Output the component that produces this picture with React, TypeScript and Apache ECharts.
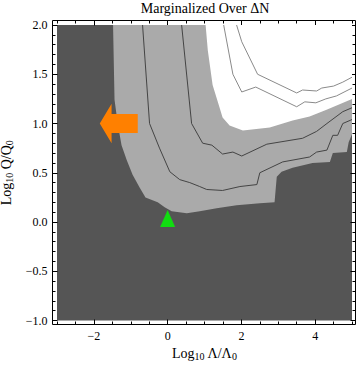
import React, { useEffect, useRef } from 'react';
import * as echarts from 'echarts';

// ---- data (Log10 Λ/Λ0 , Log10 Q/Q0) ----
const X_MAJOR = [-2, 0, 2, 4];
const Y_MAJOR_STEP = 0.5;

const lightRegion: number[][] = [
  [-1.48, 2.0], [-1.44, 1.24], [-1.35, 0.99], [-1.25, 0.78], [-1.11, 0.63], [-0.95, 0.48],
  [-0.76, 0.35], [-0.6, 0.25], [-0.27, 0.2], [-0.08, 0.15], [0.11, 0.11], [0.52, 0.09],
  [0.87, 0.11], [1.33, 0.14], [1.87, 0.17], [2.5, 0.19], [2.9, 0.2], [2.96, 0.46],
  [3.09, 0.51], [3.39, 0.55], [3.93, 0.6], [4.4, 0.61], [4.48, 0.7], [4.86, 0.71],
  [4.91, 0.81], [5.0, 0.89], [5.0, 2.0],
];

const whiteRegion: number[][] = [
  [1.03, 2.0], [1.09, 1.74], [1.22, 1.39], [1.41, 1.16], [1.49, 1.06], [1.68, 0.98],
  [2.04, 0.93], [2.77, 0.96], [3.39, 1.03], [3.85, 1.07], [4.31, 1.14], [5.0, 1.25], [5.0, 2.0],
];

const contourA: number[][] = [
  [-0.68, 2.0], [-0.49, 1.0], [-0.22, 0.75], [0.06, 0.51], [0.33, 0.43], [0.6, 0.4],
  [0.87, 0.36], [1.06, 0.33], [1.49, 0.32], [1.96, 0.36], [2.42, 0.38], [2.5, 0.5],
  [3.12, 0.61], [3.85, 0.66], [4.04, 0.71], [4.32, 0.73], [4.48, 0.88], [4.61, 0.88],
  [4.75, 1.0], [5.0, 1.04],
];

const contourB: number[][] = [
  [0.38, 2.0], [0.65, 1.0], [0.95, 0.8], [1.2, 0.78], [1.49, 0.69], [1.77, 0.71],
  [2.01, 0.67], [2.69, 0.79], [3.66, 0.85], [4.04, 0.92], [4.32, 1.0], [4.75, 1.12], [5.0, 1.16],
];

const contourC: number[][] = [
  [1.52, 2.0], [1.77, 1.5], [2.01, 1.32], [2.39, 1.37], [3.5, 1.17], [3.72, 1.22],
  [4.02, 1.21], [4.29, 1.25], [4.58, 1.28], [5.0, 1.36],
];

const contourD: number[][] = [
  [1.87, 2.0], [2.01, 1.83], [2.44, 1.5], [3.5, 1.31], [3.66, 1.34], [4.04, 1.33],
  [4.18, 1.36], [4.5, 1.38], [4.75, 1.42], [5.0, 1.47],
];

const arrowShape: number[][] = [
  [-1.84, 1.0], [-1.52, 1.2], [-1.52, 1.096], [-0.81, 1.096], [-0.81, 0.904], [-1.52, 0.904], [-1.52, 0.8],
];

const markerPoint: number[][] = [[0, 0]];

const FONT = "'Liberation Serif', 'Times New Roman', serif";

function minusFmt(s: string) {
  return s.replace('-', '\u2212');
}

function polygonSeries(poly: number[][], color: string, z: number) {
  return {
    type: 'custom',
    xAxisIndex: 0,
    yAxisIndex: 0,
    z,
    clip: true,
    silent: true,
    data: [0],
    renderItem: (_params: any, api: any) => ({
      type: 'polygon',
      shape: { points: poly.map((p) => api.coord(p)) },
      style: { fill: color, stroke: null },
    }),
  };
}

function lineSeries(data: number[][], color: string) {
  return {
    type: 'line',
    xAxisIndex: 0,
    yAxisIndex: 0,
    z: 5,
    data,
    symbol: 'none',
    showSymbol: false,
    clip: true,
    silent: true,
    lineStyle: { color, width: 1 },
  };
}

export default function App() {
  const ref = useRef<HTMLDivElement>(null);
  useEffect(() => {
    if (!ref.current) return;
    const chart = echarts.init(ref.current, null, { renderer: 'svg' });

    const xBase = {
      type: 'value',
      min: -3,
      max: 5,
      gridIndex: 0,
      splitLine: { show: false },
      axisLine: { show: false, onZero: false },
    };
    const yBase = {
      type: 'value',
      min: -1,
      max: 2,
      gridIndex: 0,
      splitLine: { show: false },
      axisLine: { show: false, onZero: false },
    };
    const tickStyle = { color: '#000', width: 1 };

    const option: any = {
      animation: false,
      backgroundColor: '#ffffff',
      grid: {
        left: 57,
        top: 25,
        width: 295,
        height: 295.5,
        show: true,
        backgroundColor: '#555555',
        borderWidth: 0,
        containLabel: false,
        outerBoundsMode: 'none',
      },
      xAxis: [
        {
          ...xBase,
          position: 'bottom',
          offset: 4,
          interval: 0.5,
          axisTick: { show: true, inside: true, length: 3, lineStyle: tickStyle },
          axisLabel: {
            show: true,
            margin: 5,
            fontFamily: FONT,
            fontSize: 12,
            color: '#000',
            formatter: (v: number) => (X_MAJOR.includes(v) ? minusFmt(String(v)) : ''),
          },
          name: '{a|Log}{s|10}{a| \u039B/\u039B}{s|0}',
          nameLocation: 'middle',
          nameGap: 20,
          nameTextStyle: {
            rich: {
              a: { fontFamily: FONT, fontSize: 14, color: '#000' },
              s: { fontFamily: FONT, fontSize: 10, color: '#000', padding: [6, 0, 0, 0] },
            },
          },
        },
        {
          ...xBase,
          position: 'bottom',
          offset: 4,
          axisTick: { show: true, inside: true, length: 5, customValues: X_MAJOR, lineStyle: tickStyle },
          axisLabel: { show: false },
        },
        {
          ...xBase,
          position: 'top',
          offset: 4.5,
          interval: 0.5,
          axisTick: { show: true, inside: true, length: 3, lineStyle: tickStyle },
          axisLabel: { show: false },
        },
        {
          ...xBase,
          position: 'top',
          offset: 4.5,
          axisTick: { show: true, inside: true, length: 5, customValues: X_MAJOR, lineStyle: tickStyle },
          axisLabel: { show: false },
        },
      ],
      yAxis: [
        {
          ...yBase,
          position: 'left',
          offset: 4.5,
          interval: Y_MAJOR_STEP,
          axisTick: { show: true, inside: true, length: 5, lineStyle: tickStyle },
          minorTick: { show: true, splitNumber: 5, length: 3, lineStyle: tickStyle },
          minorSplitLine: { show: false },
          axisLabel: {
            show: true,
            margin: 5,
            fontFamily: FONT,
            fontSize: 12,
            color: '#000',
            formatter: (v: number) => minusFmt(v.toFixed(1)),
          },
          name: '{a|Log}{s|10}{a| Q/Q}{s|0}',
          nameLocation: 'middle',
          nameGap: 33,
          nameTextStyle: {
            rich: {
              a: { fontFamily: FONT, fontSize: 14, color: '#000' },
              s: { fontFamily: FONT, fontSize: 10, color: '#000', padding: [6, 0, 0, 0] },
            },
          },
        },
        {
          ...yBase,
          position: 'right',
          offset: 3.5,
          interval: Y_MAJOR_STEP,
          axisTick: { show: true, inside: true, length: 5, lineStyle: tickStyle },
          minorTick: { show: true, splitNumber: 5, length: 3, lineStyle: tickStyle },
          minorSplitLine: { show: false },
          axisLabel: { show: false },
        },
      ],
      graphic: [
        {
          type: 'rect',
          shape: { x: 52.5, y: 20.5, width: 303, height: 304 },
          style: { fill: 'none', stroke: '#000', lineWidth: 1 },
          z: 100,
          silent: true,
        },
        {
          type: 'text',
          x: 205,
          y: 8,
          style: {
            text: 'Marginalized Over \u0394N',
            fill: '#000',
            font: `14px ${FONT}`,
            textAlign: 'center',
            textVerticalAlign: 'middle',
          },
        },
      ],
      series: [
        polygonSeries(lightRegion, '#aaaaaa', 1),
        polygonSeries(whiteRegion, '#ffffff', 2),
        lineSeries(contourA, '#444444'),
        lineSeries(contourB, '#444444'),
        lineSeries(contourC, '#8a8a8a'),
        lineSeries(contourD, '#8a8a8a'),
        polygonSeries(arrowShape, '#ff8000', 8),
        {
          type: 'scatter',
          xAxisIndex: 0,
          yAxisIndex: 0,
          z: 9,
          data: markerPoint,
          symbol: 'triangle',
          symbolSize: [15, 17],
          symbolOffset: [0, -3.5],
          itemStyle: { color: '#00ff00' },
          silent: true,
        },
      ],
    };
    chart.setOption(option);
    return () => chart.dispose();
  }, []);
  return (
    <div
      ref={ref}
      style={{ position: 'fixed', left: 0, top: 0, width: 360, height: 367, background: '#fff' }}
    />
  );
}
